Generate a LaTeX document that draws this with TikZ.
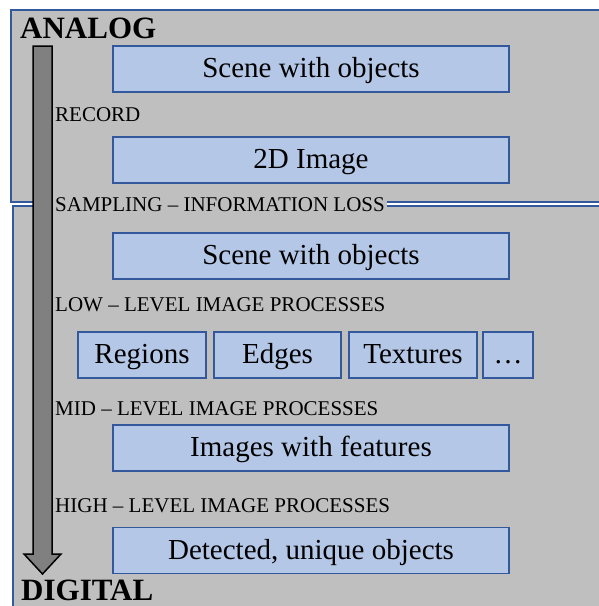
\documentclass[tikz,border=0pt]{standalone}
\usepackage{fontspec}
\setmainfont{Liberation Serif}
\usetikzlibrary{positioning}
\definecolor{panelgray}{RGB}{191,191,191}
\definecolor{boxblue}{RGB}{180,199,231}
\definecolor{edgeblue}{RGB}{52,88,156}
\definecolor{arrowgray}{RGB}{128,128,128}

\begin{document}
\begin{tikzpicture}[
            x=1pt, y=-1pt,
            panel/.style={draw=edgeblue, line width=2pt, fill=panelgray},
            blk/.style={draw=edgeblue, line width=1.5pt, fill=boxblue, minimum height=46pt, inner sep=0pt, text height=19pt, text depth=1.6pt, font=\fontsize{29}{31}\selectfont},
            wide/.style={blk, minimum width=396pt},
            stage/.style={fill=panelgray, anchor=west, inner xsep=2pt, inner ysep=1.5pt, font=\fontsize{21}{23}\selectfont},
            title/.style={anchor=west, inner sep=0pt, font=\fontsize{31}{33}\selectfont\bfseries}
        ]
            \useasboundingbox (0,0) rectangle (598,606);
            % analog and digital panels
            \draw[panel] (11,10) rectangle (620,201.5);
            \draw[panel] (13,206) rectangle (620,630);
            % processing stages
            \node[wide] (scene) at (311,69) {Scene with objects};
            \node[wide] (image) at (311,160) {2D Image};
            \node[wide] (scenedig) at (311,256) {Scene with objects};
            \node[blk, minimum width=128pt] (regions) at (142,355) {Regions};
            \node[blk, minimum width=127pt, right=6.5pt of regions] (edges) {Edges};
            \node[blk, minimum width=128pt, right=6.5pt of edges] (textures) {Textures};
            \node[blk, minimum width=50pt, right=4.5pt of textures] (more) {\dots};
            \node[wide] (features) at (311,448) {Images with features};
            \node[wide] (detected) at (311,550.5) {Detected, unique objects};
            % labels between the stages
            \node[stage] (record) at (53,114.5) {RECORD};
            \node[stage] (sampling) at (53,205) {SAMPLING -- INFORMATION LOSS};
            \node[stage] (low) at (53,305) {LOW -- LEVEL IMAGE PROCESSES};
            \node[stage] (mid) at (53,408.5) {MID -- LEVEL IMAGE PROCESSES};
            \node[stage] (high) at (53,505.5) {HIGH -- LEVEL IMAGE PROCESSES};
            % big down arrow
            \draw[fill=arrowgray, line width=1.5pt, line join=miter]
                (33,46) -- (52,46) -- (52,554) -- (61,554) -- (42.5,574) -- (24,554) -- (33,554) -- cycle;
            \node[title] (analog) at (20,28.5) {ANALOG};
            \node[title] (digital) at (21,590) {DIGITAL};
        \end{tikzpicture}
\end{document}
